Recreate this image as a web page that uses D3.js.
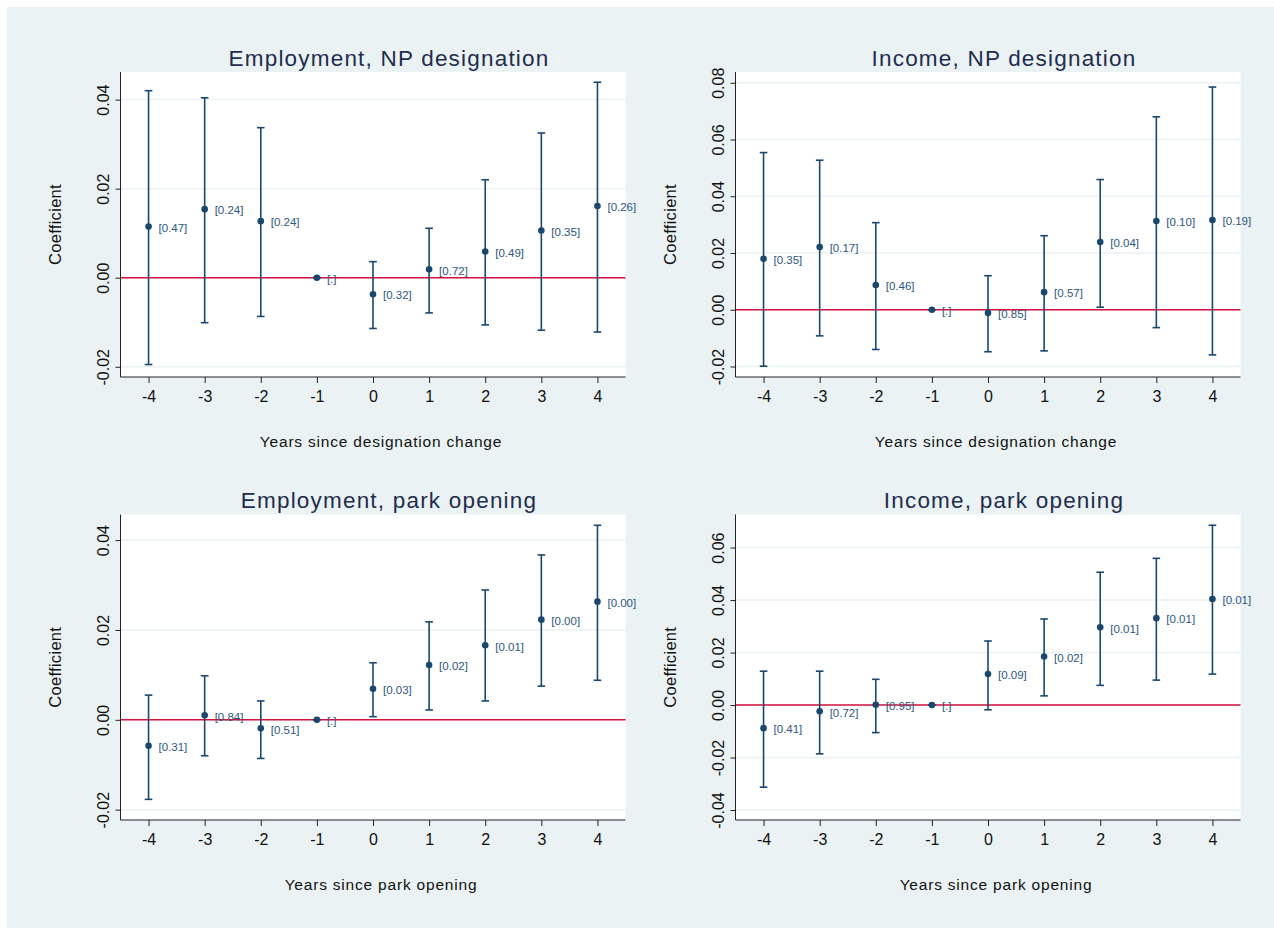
<!DOCTYPE html>
<html>
<head>
<meta charset="utf-8">
<script src="https://cdn.jsdelivr.net/npm/d3@7"></script>
<style>
  body { margin: 0; background: #fff; }
  svg text { font-family: "Liberation Sans", Arial, sans-serif; }
</style>
</head>
<body>
<svg id="chart" width="1274" height="928"></svg>
<script>
// event-time values, shared by all four panels
var years = [-4, -3, -2, -1, 0, 1, 2, 3, 4];

// Employment, NP designation
var empNPCoef = [0.0115, 0.0154, 0.0127, 0.0, -0.0037, 0.0019, 0.0059, 0.0106, 0.0161];
var empNPLow  = [-0.0195, -0.0101, -0.0087, 0.0, -0.0114, -0.0079, -0.0106, -0.0118, -0.0122];
var empNPHigh = [0.0420, 0.0404, 0.0337, 0.0, 0.0036, 0.0111, 0.0220, 0.0325, 0.0439];
var empNPP    = ["[0.47]", "[0.24]", "[0.24]", "[.]", "[0.32]", "[0.72]", "[0.49]", "[0.35]", "[0.26]"];

// Income, NP designation
var incNPCoef = [0.0180, 0.0221, 0.0087, 0.0, -0.0011, 0.0062, 0.0239, 0.0313, 0.0316];
var incNPLow  = [-0.0199, -0.0092, -0.0140, 0.0, -0.0148, -0.0145, 0.0009, -0.0063, -0.0159];
var incNPHigh = [0.0554, 0.0527, 0.0307, 0.0, 0.0120, 0.0261, 0.0459, 0.0680, 0.0785];
var incNPP    = ["[0.35]", "[0.17]", "[0.46]", "[.]", "[0.85]", "[0.57]", "[0.04]", "[0.10]", "[0.19]"];

// Employment, park opening
var empParkCoef = [-0.0058, 0.0010, -0.0019, 0.0, 0.0069, 0.0122, 0.0166, 0.0223, 0.0263];
var empParkLow  = [-0.0177, -0.0080, -0.0086, 0.0, 0.0007, 0.0022, 0.0042, 0.0075, 0.0088];
var empParkHigh = [0.0055, 0.0098, 0.0042, 0.0, 0.0127, 0.0218, 0.0289, 0.0367, 0.0433];
var empParkP    = ["[0.31]", "[0.84]", "[0.51]", "[.]", "[0.03]", "[0.02]", "[0.01]", "[0.00]", "[0.00]"];

// Income, park opening
var incParkCoef = [-0.0088, -0.0024, 0.0001, 0.0, 0.0118, 0.0185, 0.0296, 0.0331, 0.0404];
var incParkLow  = [-0.0313, -0.0186, -0.0105, 0.0, -0.0018, 0.0035, 0.0075, 0.0095, 0.0118];
var incParkHigh = [0.0129, 0.0129, 0.0098, 0.0, 0.0244, 0.0328, 0.0506, 0.0559, 0.0685];
var incParkP    = ["[0.41]", "[0.72]", "[0.95]", "[.]", "[0.09]", "[0.02]", "[0.01]", "[0.01]", "[0.01]"];

// y tick labels per panel
var ticksSmall = [-0.02, 0.00, 0.02, 0.04];
var ticksIncNP = [-0.02, 0.00, 0.02, 0.04, 0.06, 0.08];
var ticksIncPark = [-0.04, -0.02, 0.00, 0.02, 0.04, 0.06];

var navy = "#1a476f";
var bg = "#eaf2f3";

var panels = [
    { title: "Employment, NP designation", xtitle: "Years since designation change",
      coef: empNPCoef, low: empNPLow, high: empNPHigh, p: empNPP, ticks: ticksSmall,
      ydom: [-0.0223, 0.0462], left: 120.5, top: 72, w: 505, h: 305 },
    { title: "Income, NP designation", xtitle: "Years since designation change",
      coef: incNPCoef, low: incNPLow, high: incNPHigh, p: incNPP, ticks: ticksIncNP,
      ydom: [-0.0237, 0.0838], left: 735.5, top: 72, w: 505, h: 305 },
    { title: "Employment, park opening", xtitle: "Years since park opening",
      coef: empParkCoef, low: empParkLow, high: empParkHigh, p: empParkP, ticks: ticksSmall,
      ydom: [-0.0223, 0.0457], left: 120.5, top: 514.5, w: 505, h: 305.5 },
    { title: "Income, park opening", xtitle: "Years since park opening",
      coef: incParkCoef, low: incParkLow, high: incParkHigh, p: incParkP, ticks: ticksIncPark,
      ydom: [-0.0438, 0.0726], left: 735.5, top: 514.5, w: 505, h: 305.5 }
];

// plain hyphen for negative numbers, like the original
var fmt2 = d3.formatLocale({ decimal: ".", thousands: ",", grouping: [3], currency: ["", ""], minus: "-" }).format(".2f");

var svg = d3.select("#chart");

svg.append("rect")
    .attr("x", 7).attr("y", 7)
    .attr("width", 1274 - 7).attr("height", 928 - 7)
    .attr("fill", bg);

panels.forEach(function (pn) {
    var x = d3.scaleLinear().domain([-4.5, 4.5]).range([pn.left, pn.left + pn.w]);
    var y = d3.scaleLinear().domain(pn.ydom).range([pn.top + pn.h, pn.top]);
    var bottom = pn.top + pn.h;
    var cx = pn.left + pn.w / 2;

    svg.append("rect")
        .attr("x", pn.left).attr("y", pn.top)
        .attr("width", pn.w).attr("height", pn.h)
        .attr("fill", "#fff");

    // grid lines
    svg.append("g").selectAll("line")
        .data(pn.ticks)
        .enter().append("line")
        .attr("x1", pn.left).attr("x2", pn.left + pn.w)
        .attr("y1", function (d) { return y(d); })
        .attr("y2", function (d) { return y(d); })
        .attr("stroke", bg).attr("stroke-width", 1.5);

    // zero line
    svg.append("line")
        .attr("x1", pn.left).attr("x2", pn.left + pn.w)
        .attr("y1", y(0)).attr("y2", y(0))
        .attr("stroke", "#d3123f").attr("stroke-width", 1.6);

    // axes
    var yAxis = svg.append("g")
        .attr("transform", "translate(" + pn.left + ",0)")
        .call(d3.axisLeft(y).tickValues(pn.ticks).tickSize(5).tickFormat(fmt2));
    yAxis.select(".domain").attr("d", "M0," + pn.top + "V" + bottom).attr("stroke", "#222");
    yAxis.selectAll(".tick line").attr("stroke", "#222");
    yAxis.selectAll(".tick text")
        .attr("x", 0).attr("dy", null)
        .attr("transform", "translate(-11.5,0) rotate(-90)")
        .attr("text-anchor", "middle")
        .attr("font-size", 16).attr("fill", "#111");

    var xAxis = svg.append("g")
        .attr("transform", "translate(0," + bottom + ")")
        .call(d3.axisBottom(x).tickValues(years).tickSize(6)
            .tickFormat(function (d) { return d < 0 ? "-" + Math.abs(d) : String(d); }));
    xAxis.select(".domain").attr("d", "M" + pn.left + ",0H" + (pn.left + pn.w)).attr("stroke", "#222");
    xAxis.selectAll(".tick line").attr("stroke", "#222");
    xAxis.selectAll(".tick text")
        .attr("y", 25).attr("dy", null)
        .attr("font-size", 16).attr("fill", "#111");

    // error bars
    var g = svg.append("g");
    var idx = d3.range(years.length);
    g.selectAll("line.ci")
        .data(idx).enter().append("line").attr("class", "ci")
        .attr("x1", function (i) { return x(years[i]); })
        .attr("x2", function (i) { return x(years[i]); })
        .attr("y1", function (i) { return y(pn.low[i]); })
        .attr("y2", function (i) { return y(pn.high[i]); })
        .attr("stroke", navy).attr("stroke-width", 1.6);
    [pn.low, pn.high].forEach(function (arr) {
        g.selectAll(null)
            .data(idx).enter().append("line")
            .attr("x1", function (i) { return x(years[i]) - 3.8; })
            .attr("x2", function (i) { return x(years[i]) + 3.8; })
            .attr("y1", function (i) { return y(arr[i]); })
            .attr("y2", function (i) { return y(arr[i]); })
            .attr("stroke", navy).attr("stroke-width", 1.6);
    });
    g.selectAll("circle")
        .data(idx).enter().append("circle")
        .attr("cx", function (i) { return x(years[i]); })
        .attr("cy", function (i) { return y(pn.coef[i]); })
        .attr("r", 3.3)
        .attr("fill", navy);
    g.selectAll("text")
        .data(idx).enter().append("text")
        .attr("x", function (i) { return x(years[i]) + 10; })
        .attr("y", function (i) { return y(pn.coef[i]) + 5.3; })
        .attr("font-size", 11.5)
        .attr("fill", "#2d5680")
        .text(function (i) { return pn.p[i]; });

    // titles
    svg.append("text")
        .attr("x", cx + 16).attr("y", pn.top - 6.5)
        .attr("text-anchor", "middle")
        .attr("font-size", 22.5).attr("letter-spacing", 1.2)
        .attr("fill", "#1f2d4f")
        .text(pn.title);
    svg.append("text")
        .attr("x", cx + 8).attr("y", bottom + 70)
        .attr("text-anchor", "middle")
        .attr("font-size", 15.5).attr("letter-spacing", 0.8)
        .attr("fill", "#111")
        .text(pn.xtitle);
    svg.append("text")
        .attr("transform", "translate(" + (pn.left - 60) + "," + (pn.top + pn.h / 2) + ") rotate(-90)")
        .attr("text-anchor", "middle")
        .attr("font-size", 16.5).attr("letter-spacing", 0.3)
        .attr("fill", "#111")
        .text("Coefficient");
});
</script>
</body>
</html>
